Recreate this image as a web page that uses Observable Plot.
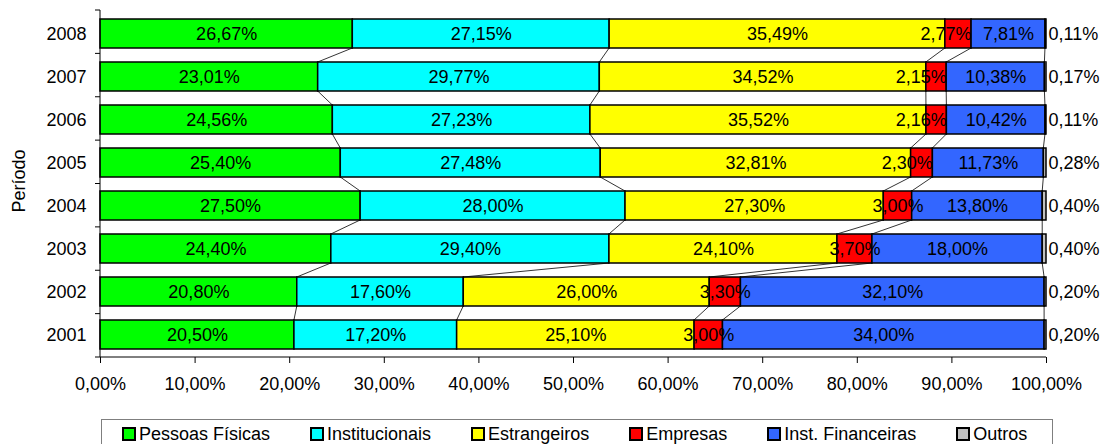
<!DOCTYPE html>
<html>
<head>
<meta charset="utf-8">
<script src="https://cdn.jsdelivr.net/npm/d3@7"></script>
<script src="https://cdn.jsdelivr.net/npm/@observablehq/plot@0.6"></script>
<style>
  html, body { margin: 0; padding: 0; background: #fff; }
  body { font-family: "Liberation Sans", Arial, sans-serif; }
  #chart { position: relative; width: 1102px; height: 444px; overflow: hidden; background: #fff; }
  #chart svg { display: block; }
  #legend {
    position: absolute; left: 101px; top: 419px; width: 952px; height: 34px;
    border: 1px solid #7f7f7f; box-sizing: border-box;
    display: flex; gap: 40px; padding-left: 20px; padding-top: 4px;
    font-size: 18px; color: #000; align-items: flex-start;
  }
  .item { display: flex; align-items: center; gap: 3px; white-space: nowrap; line-height: 20px; }
  .sw { width: 14px; height: 14px; border: 2px solid #000; box-sizing: border-box; }
</style>
</head>
<body>
<div id="chart"></div>
<script>
// ---- Data ----
const years = ["2008", "2007", "2006", "2005", "2004", "2003", "2002", "2001"];
const series = ["Pessoas Físicas", "Institucionais", "Estrangeiros", "Empresas", "Inst. Financeiras", "Outros"];
const colors = ["#00ff00", "#00ffff", "#ffff00", "#ff0000", "#3366ff", "#c0c0c0"];

const pessoasFisicas   = [26.67, 23.01, 24.56, 25.40, 27.50, 24.40, 20.80, 20.50];
const institucionais   = [27.15, 29.77, 27.23, 27.48, 28.00, 29.40, 17.60, 17.20];
const estrangeiros     = [35.49, 34.52, 35.52, 32.81, 27.30, 24.10, 26.00, 25.10];
const empresas         = [ 2.77,  2.15,  2.16,  2.30,  3.00,  3.70,  3.30,  3.00];
const instFinanceiras  = [ 7.81, 10.38, 10.42, 11.73, 13.80, 18.00, 32.10, 34.00];
const outros           = [ 0.11,  0.17,  0.11,  0.28,  0.40,  0.40,  0.20,  0.20];

// Empresas labels that sit right-aligned on their segment in the original
const empresasEndAligned = ["2008", "2007", "2006", "2005"];

const valuesBySeries = [pessoasFisicas, institucionais, estrangeiros, empresas, instFinanceiras, outros];

// ---- Build table ----
const table = [];
const cum = years.map(() => []);
years.forEach((year, i) => {
  let c = 0;
  series.forEach((s, k) => {
    const v = valuesBySeries[k][i];
    table.push({year, series: s, value: v, x1: c, x2: c + v});
    c += v;
    cum[i].push(c);
  });
});

const fmt = v => v.toFixed(2).replace(".", ",") + "%";

const W = 1102, H = 400, mL = 100, mR = 56, mT = 10, mB = 43;

const centerLabels = table.filter(d => d.series !== "Outros" && !(d.series === "Empresas" && empresasEndAligned.includes(d.year)));
const endLabels = table.filter(d => d.series === "Empresas" && empresasEndAligned.includes(d.year));
const outrosLabels = table.filter(d => d.series === "Outros");

function seriesLines(index, scales) {
  const x = scales.x, y = scales.y;
  const bw = y.bandwidth ? y.bandwidth() : 29;
  const g = d3.create("svg:g").attr("stroke", "#000").attr("stroke-width", 0.8).attr("fill", "none");
  for (let i = 0; i < years.length - 1; i++) {
    for (let k = 0; k < series.length - 1; k++) {
      g.append("line")
        .attr("x1", x(cum[i][k])).attr("y1", y(years[i]) + bw)
        .attr("x2", x(cum[i + 1][k])).attr("y2", y(years[i + 1]));
    }
  }
  return g.node();
}

function axisLines(index, scales) {
  const x = scales.x;
  const g = d3.create("svg:g").attr("stroke", "#000").attr("stroke-width", 1).attr("fill", "none");
  const x0 = x(0), x100 = x(100), yb = H - mB;
  g.append("line").attr("x1", x0).attr("x2", x0).attr("y1", mT).attr("y2", yb);
  g.append("line").attr("x1", x0).attr("x2", x100).attr("y1", yb).attr("y2", yb);
  const step = (H - mT - mB) / years.length;
  for (let j = 0; j <= years.length; j++) {
    const yy = mT + j * step;
    g.append("line").attr("x1", x0 - 5).attr("x2", x0).attr("y1", yy).attr("y2", yy);
  }
  return g.node();
}

const plot = Plot.plot({
  width: W, height: H,
  marginLeft: mL, marginRight: mR, marginTop: mT, marginBottom: mB,
  style: {fontFamily: "'Liberation Sans', Arial, sans-serif", fontSize: "18px", color: "#000", background: "#fff", overflow: "visible"},
  x: {domain: [0, 100], ticks: d3.range(0, 101, 10), tickFormat: fmt, tickSize: 6, tickPadding: 14, label: null},
  y: {domain: years, paddingInner: 0.33, paddingOuter: 0.165, tickSize: 0, tickPadding: 14, label: null},
  color: {domain: series, range: colors},
  marks: [
    Plot.barX(table, {x1: "x1", x2: "x2", y: "year", fill: "series", stroke: "#000", strokeWidth: 1.5}),
    seriesLines,
    Plot.text(centerLabels, {x: d => (d.x1 + d.x2) / 2, y: "year", text: d => fmt(d.value), fontSize: 18, fill: "#000"}),
    Plot.text(endLabels, {x: "x2", y: "year", text: d => fmt(d.value), textAnchor: "end", fontSize: 18, fill: "#000"}),
    Plot.text(outrosLabels, {x: "x2", y: "year", text: d => fmt(d.value), textAnchor: "start", dx: 2, fontSize: 18, fill: "#000"}),
    axisLines,
    Plot.text(["Período"], {frameAnchor: "left", text: d => d, textAnchor: "middle", dx: -81, dy: -3, rotate: -90, fontSize: 18, fill: "#000"})
  ]
});

const chart = document.getElementById("chart");
chart.appendChild(plot);

const legend = document.createElement("div");
legend.id = "legend";
series.forEach((s, k) => {
  const item = document.createElement("div");
  item.className = "item";
  const sw = document.createElement("div");
  sw.className = "sw";
  sw.style.background = colors[k];
  const label = document.createElement("span");
  label.textContent = s;
  item.appendChild(sw);
  item.appendChild(label);
  legend.appendChild(item);
});
chart.appendChild(legend);
</script>
</body>
</html>
